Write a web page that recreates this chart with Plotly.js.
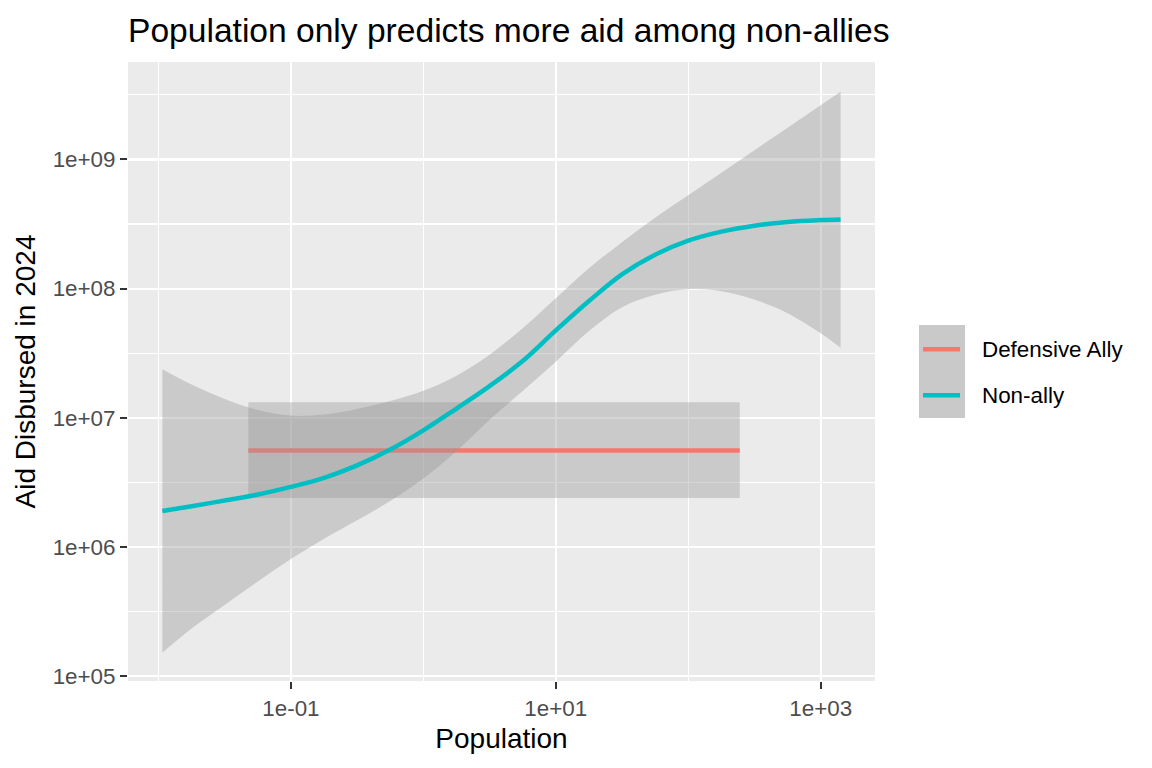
<!DOCTYPE html>
<html>
<head>
<meta charset="utf-8">
<script src="https://cdn.plot.ly/plotly-3.0.1.min.js"></script>
<style>
  html, body { margin: 0; padding: 0; background: #ffffff; }
  #chart { width: 1152px; height: 768px; }
</style>
</head>
<body>
<div id="chart"></div>
<script>
var FONT = 'Liberation Sans, Arial, sans-serif';

// Non-ally smooth: population (x), fitted aid, and the confidence band
var nonAllyPop = [0.0107, 0.0178, 0.0316, 0.0562, 0.1, 0.178, 0.316, 0.562, 1, 1.78, 3.16,
                  5.62, 10, 17.8, 31.6, 56.2, 100, 178, 316, 562, 1000, 1413];
var nonAllyFit = [1.90e6, 2.07e6, 2.29e6, 2.55e6, 2.92e6, 3.43e6, 4.28e6, 5.68e6, 8.00e6, 1.18e7, 1.76e7,
                  2.75e7, 4.75e7, 8.02e7, 1.29e8, 1.83e8, 2.35e8, 2.76e8, 3.07e8, 3.28e8, 3.39e8, 3.43e8];
var nonAllyHigh = [2.38e7, 1.81e7, 1.40e7, 1.15e7, 1.04e7, 1.06e7, 1.17e7, 1.35e7, 1.62e7, 2.12e7, 3.08e7,
                   4.94e7, 8.44e7, 1.44e8, 2.29e8, 3.54e8, 5.28e8, 7.89e8, 1.18e9, 1.76e9, 2.63e9, 3.34e9];
var nonAllyLow = [1.52e5, 2.34e5, 3.56e5, 5.40e5, 8.07e5, 1.16e6, 1.61e6, 2.27e6, 3.39e6, 5.54e6, 9.68e6,
                  1.61e7, 2.72e7, 4.69e7, 7.18e7, 8.98e7, 9.91e7, 9.55e7, 8.22e7, 6.46e7, 4.52e7, 3.49e7];

// Defensive ally smooth is flat
var allyPop = [0.0477, 245];
var allyFit = [5.59e6, 5.59e6];
var allyHigh = [1.32e7, 1.32e7];
var allyLow = [2.40e6, 2.40e6];

var groups = ['Defensive Ally', 'Non-ally'];
var groupColors = ['#F8766D', '#00BFC4'];

var xTickVals = [0.1, 10, 1000];
var xTickText = ['1e-01', '1e+01', '1e+03'];
var xMinorVals = [0.01, 1, 100];
var yTickVals = [1e5, 1e6, 1e7, 1e8, 1e9];
var yTickText = ['1e+05', '1e+06', '1e+07', '1e+08', '1e+09'];
var yMinorVals = [3.162e5, 3.162e6, 3.162e7, 3.162e8, 3.162e9];

var BAND = 'rgba(153,153,153,0.4)';

function smoothTraces(x, fit, low, high, color, shape) {
    var lower = {
        x: x, y: low, type: 'scatter', mode: 'lines',
        line: {width: 0, shape: shape}, hoverinfo: 'skip', showlegend: false
    };
    var upper = {
        x: x, y: high, type: 'scatter', mode: 'lines', fill: 'tonexty',
        fillcolor: BAND, line: {width: 0, shape: shape}, hoverinfo: 'skip', showlegend: false
    };
    var line = {
        x: x, y: fit, type: 'scatter', mode: 'lines',
        line: {color: color, width: 4.5, shape: shape}, showlegend: false
    };
    return [lower, upper, line];
}

function drawChart() {
    var data = [].concat(
        smoothTraces(allyPop, allyFit, allyLow, allyHigh, groupColors[0], 'linear'),
        smoothTraces(nonAllyPop, nonAllyFit, nonAllyLow, nonAllyHigh, groupColors[1], 'spline')
    );

    // hand made legend, ggplot style
    var shapes = [
        {type: 'rect', xref: 'paper', yref: 'paper', x0: 1.0589, x1: 1.1205, y0: 0.4249, y1: 0.5751,
         fillcolor: '#C9C9C9', line: {width: 0}},
        {type: 'line', xref: 'paper', yref: 'paper', x0: 1.0643, x1: 1.1138, y0: 0.5359, y1: 0.5359,
         line: {color: groupColors[0], width: 4.5}},
        {type: 'line', xref: 'paper', yref: 'paper', x0: 1.0643, x1: 1.1138, y0: 0.4616, y1: 0.4616,
         line: {color: groupColors[1], width: 4.5}}
    ];
    var annotations = [
        {text: groups[0], xref: 'paper', yref: 'paper', x: 1.1406, y: 0.5359, xanchor: 'left',
         yanchor: 'middle', showarrow: false, font: {family: FONT, size: 22.4, color: '#000000'}},
        {text: groups[1], xref: 'paper', yref: 'paper', x: 1.1406, y: 0.4616, xanchor: 'left',
         yanchor: 'middle', showarrow: false, font: {family: FONT, size: 22.4, color: '#000000'}}
    ];

    var layout = {
        width: 1152,
        height: 768,
        margin: {l: 128, r: 277, t: 62, b: 87},
        paper_bgcolor: '#FFFFFF',
        plot_bgcolor: '#EBEBEB',
        showlegend: false,
        font: {family: FONT},
        title: {
            text: 'Population only predicts more aid among non-allies',
            font: {family: FONT, size: 33.6, color: '#000000'},
            xref: 'paper', x: 0, xanchor: 'left',
            yref: 'container', y: 0.945, yanchor: 'bottom'
        },
        xaxis: {
            type: 'log',
            range: [-2.230, 3.41],
            tickmode: 'array', tickvals: xTickVals, ticktext: xTickText,
            ticks: 'outside', ticklen: 7, tickwidth: 2, tickcolor: '#333333',
            tickfont: {family: FONT, size: 22.4, color: '#4D4D4D'},
            showgrid: true, gridcolor: '#FFFFFF', gridwidth: 2.2,
            minor: {tickmode: 'array', tickvals: xMinorVals, ticks: '', showgrid: true,
                    gridcolor: '#FFFFFF', gridwidth: 1.1},
            zeroline: false, showline: false,
            title: {text: 'Population', font: {family: FONT, size: 28, color: '#000000'}, standoff: 8}
        },
        yaxis: {
            type: 'log',
            range: [4.963, 9.754],
            tickmode: 'array', tickvals: yTickVals, ticktext: yTickText,
            ticks: 'outside', ticklen: 7, tickwidth: 2, tickcolor: '#333333',
            tickfont: {family: FONT, size: 22.4, color: '#4D4D4D'},
            showgrid: true, gridcolor: '#FFFFFF', gridwidth: 2.2,
            minor: {tickmode: 'array', tickvals: yMinorVals, ticks: '', showgrid: true,
                    gridcolor: '#FFFFFF', gridwidth: 1.1},
            zeroline: false, showline: false,
            title: {text: 'Aid Disbursed in 2024', font: {family: FONT, size: 28, color: '#000000'}, standoff: 8}
        },
        shapes: shapes,
        annotations: annotations
    };

    Plotly.newPlot('chart', data, layout, {displayModeBar: false, staticPlot: true});
}

drawChart();
</script>
</body>
</html>
